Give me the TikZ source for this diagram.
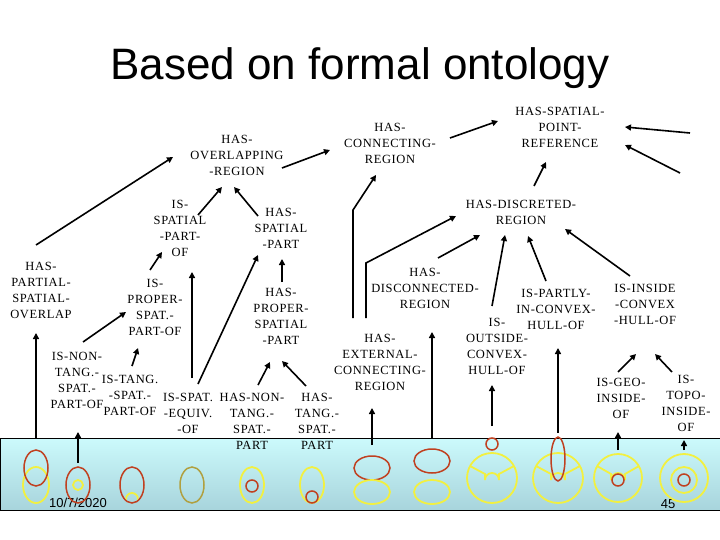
\documentclass[tikz,border=0pt]{standalone}
\usepackage{fontspec}
\setmainfont{Liberation Serif}
\newfontfamily\arialf{Liberation Sans}
\newfontfamily\labf[LetterSpace=5]{Liberation Serif}
\usetikzlibrary{arrows.meta}
\definecolor{rd}{HTML}{C04020}
\definecolor{yl}{HTML}{F2F040}
\definecolor{ol}{HTML}{B0A040}
\definecolor{bxtop}{HTML}{CCFAFC}
\definecolor{bxbot}{HTML}{A8D4DC}
\tikzset{
 lab/.style={align=center,inner sep=1pt,font=\labf\fontsize{12.5}{16}\selectfont},
 arr/.style={line width=1.6pt,-{Triangle[length=6pt,width=6pt]}},
 rs/.style={draw=rd,line width=1.5pt},
 ys/.style={draw=yl,line width=1.8pt},
}
\begin{document}
\begin{tikzpicture}[x=1pt,y=-1pt]
\useasboundingbox (0,0) rectangle (720,540);
\fill[white] (0,0) rectangle (720,540);
\node[font=\arialf\fontsize{44}{48}\selectfont] (title) at (360,68) {Based on formal ontology};
% box
\shade[top color=bxtop,bottom color=bxbot] (0,438) rectangle (720,510);
\draw[line width=0.8pt] (0,438) rectangle (720,510);
% labels
\node[lab] (hor) at (237,155) {HAS-\\OVERLAPPING\\-REGION};
\node[lab] (hcr) at (390,143) {HAS-\\CONNECTING-\\REGION};
\node[lab] (hspr) at (560,127) {HAS-SPATIAL-\\POINT-\\REFERENCE};
\node[lab] (hdr) at (521,212) {HAS-DISCRETED-\\REGION};
\node[lab] (ispo) at (180,228) {IS-\\SPATIAL\\-PART-\\OF};
\node[lab] (hsp) at (281,228) {HAS-\\SPATIAL\\-PART};
\node[lab] (hpso) at (41,290) {HAS-\\PARTIAL-\\SPATIAL-\\OVERLAP};
\node[lab] (ipspo) at (155,307) {IS-\\PROPER-\\SPAT.-\\PART-OF};
\node[lab] (hpsp) at (281,316) {HAS-\\PROPER-\\SPATIAL\\-PART};
\node[lab] (hdcr) at (425,288) {HAS-\\DISCONNECTED-\\REGION};
\node[lab] (ipic) at (556,309) {IS-PARTLY-\\IN-CONVEX-\\HULL-OF};
\node[lab] (iic) at (645,304) {IS-INSIDE\\-CONVEX\\-HULL-OF};
\node[lab] (ioc) at (497,346) {IS-\\OUTSIDE-\\CONVEX-\\HULL-OF};
\node[lab] (hecr) at (380,362) {HAS-\\EXTERNAL-\\CONNECTING-\\REGION};
\node[lab] (intspo) at (77,380) {IS-NON-\\TANG.-\\SPAT.-\\PART-OF};
\node[lab] (itspo) at (130,395) {IS-TANG.\\-SPAT.-\\PART-OF};
\node[lab] (iseo) at (188,413) {IS-SPAT.\\-EQUIV.\\-OF};
\node[lab] (hntsp) at (252,421) {HAS-NON-\\TANG.-\\SPAT.-\\PART};
\node[lab] (htsp) at (317,421) {HAS-\\TANG.-\\SPAT.-\\PART};
\node[lab] (igio) at (621,398) {IS-GEO-\\INSIDE-\\OF};
\node[lab] (itio) at (686,403) {IS-\\TOPO-\\INSIDE-\\OF};
\node[font=\arialf\fontsize{13}{14}\selectfont] (date) at (78,503) {10/7/2020};
\node[font=\arialf\fontsize{13}{14}\selectfont] (pg) at (668,504) {45};
% arrows between labels
\draw[arr] (36,245) -- (173,157);
\draw[arr] (282,168) -- (330,150);
\draw[arr] (450,138) -- (498,121);
\draw[arr] (690,133) -- (625,127);
\draw[arr] (680,173) -- (625,145);
\draw[arr] (534,186) -- (546,162);
\draw[arr] (198,215) -- (222,187);
\draw[arr] (258,216) -- (234,187);
\draw[arr] (150,270) -- (162,252);
\draw[arr] (282,282) -- (282,259);
\draw[arr] (83,342) -- (126,312);
\draw[arr] (132,366) -- (138,348);
\draw[arr] (192,378) -- (192,272);
\draw[arr] (198,384) -- (258,255);
\draw[arr] (258,385) -- (270,362);
\draw[arr] (306,386) -- (282,361);
\draw[arr] (353,318) -- (353,210) -- (376,175);
\draw[arr] (366,318) -- (366,263) -- (456,216);
\draw[arr] (438,258) -- (480,235);
\draw[arr] (492,306) -- (505,235);
\draw[arr] (546,281) -- (528,236);
\draw[arr] (630,276) -- (565,229);
\draw[arr] (618,372) -- (636,354);
\draw[arr] (672,372) -- (655,354);
% arrows from box
\draw[arr] (36,438) -- (36,333);
\draw[arr] (78,463) -- (78,432);
\draw[arr] (372,445) -- (372,408);
\draw[arr] (432,438) -- (432,332);
\draw[arr] (492,426) -- (492,385);
\draw[arr] (558,433) -- (558,348);
\draw[arr] (618,450) -- (618,432);
\draw[arr] (684,450) -- (684,440);
% pictograms
\draw[ys] (36,485) ellipse (13 and 18);
\draw[rs] (36,468) ellipse (12 and 18);
\draw[rs] (78,485) ellipse (12 and 18);
\draw[ys] (78,485) circle (5);
\draw[rs] (132,485) ellipse (12 and 18);
\begin{scope}\clip (132,485) ellipse (11 and 17); \draw[ys] (132,499) circle (6);\end{scope}
\draw[draw=ol,line width=1.5pt] (192,485) ellipse (12 and 18);
\draw[ys] (252,485) ellipse (12 and 18);
\draw[rs] (252,486) circle (6);
\draw[ys] (312,485) ellipse (12 and 18);
\draw[rs] (312,497) circle (6);
\draw[rs] (372,468) ellipse (18 and 12);
\draw[ys] (372,492) ellipse (18 and 12);
\draw[rs] (432,461) ellipse (18 and 12);
\draw[ys] (432,492) ellipse (18 and 12);
\draw[rs] (492,444) circle (6);
\draw[ys] (492,478) circle (25);
\draw[ys] (470,466) -- (485,474) -- (485,480) arc[start angle=180,end angle=360,radius=7] -- (499,474) -- (514,466);
\draw[ys] (558,478) circle (25);
\draw[ys] (536,466) -- (551,474) -- (551,480) arc[start angle=180,end angle=360,radius=7] -- (565,474) -- (580,466);
\draw[rs] (558,459) ellipse (7 and 22);
\draw[ys] (618,478) circle (24);
\draw[ys] (597,466) -- (611,474) -- (611,480) arc[start angle=180,end angle=360,radius=7] -- (625,474) -- (639,466);
\draw[rs] (618,480) circle (6);
\draw[ys] (684,478) circle (24);
\draw[ys] (684,480) circle (13);
\draw[rs] (684,480) circle (6);
\end{tikzpicture}
\end{document}
